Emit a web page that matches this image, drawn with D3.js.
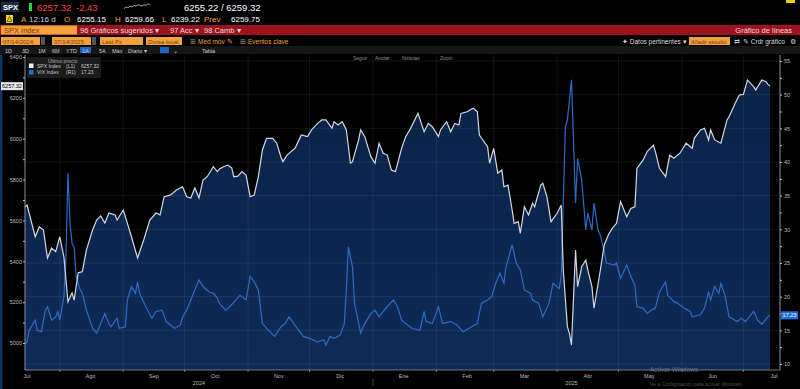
<!DOCTYPE html>
<html>
<head>
<meta charset="utf-8">
<script src="https://cdn.jsdelivr.net/npm/d3@7"></script>
<style>
body { margin: 0; background: #000; overflow: hidden; }
svg { display: block; font-family: "Liberation Sans", Arial, sans-serif; }
</style>
</head>
<body>
<svg id="chart" width="800" height="389"></svg>
<script>
// S&P 500 (SPX) last price
const spx = [
    ['2024-07-15', 5667], ['2024-07-16', 5675], ['2024-07-20', 5520], ['2024-07-22', 5569], ['2024-07-24', 5553],
    ['2024-07-26', 5416], ['2024-07-28', 5465], ['2024-07-30', 5447], ['2024-08-01', 5520], ['2024-08-03', 5422],
    ['2024-08-05', 5202], ['2024-08-07', 5245], ['2024-08-08', 5210], ['2024-08-10', 5344], ['2024-08-12', 5349],
    ['2024-08-14', 5455], ['2024-08-17', 5553], ['2024-08-19', 5602], ['2024-08-21', 5622], ['2024-08-23', 5587],
    ['2024-08-25', 5636], ['2024-08-28', 5627], ['2024-08-29', 5602], ['2024-09-01', 5651], ['2024-09-03', 5587],
    ['2024-09-05', 5520], ['2024-09-08', 5416], ['2024-09-11', 5504], ['2024-09-14', 5602], ['2024-09-17', 5636],
    ['2024-09-19', 5627], ['2024-09-21', 5716], ['2024-09-24', 5724], ['2024-09-27', 5749], ['2024-09-30', 5765],
    ['2024-10-02', 5716], ['2024-10-04', 5710], ['2024-10-06', 5759], ['2024-10-08', 5710], ['2024-10-10', 5798],
    ['2024-10-12', 5814], ['2024-10-15', 5863], ['2024-10-17', 5839], ['2024-10-18', 5852], ['2024-10-20', 5863],
    ['2024-10-22', 5871], ['2024-10-24', 5857], ['2024-10-25', 5814], ['2024-10-27', 5817], ['2024-10-29', 5839],
    ['2024-10-31', 5822], ['2024-11-02', 5716], ['2024-11-04', 5724], ['2024-11-06', 5814], ['2024-11-08', 5945],
    ['2024-11-10', 6002], ['2024-11-13', 6002], ['2024-11-15', 5978], ['2024-11-17', 5912], ['2024-11-18', 5888],
    ['2024-11-20', 5920], ['2024-11-24', 5954], ['2024-11-27', 6018], ['2024-11-30', 6010], ['2024-12-02', 6043],
    ['2024-12-05', 6075], ['2024-12-07', 6092], ['2024-12-09', 6092], ['2024-12-12', 6051], ['2024-12-13', 6083],
    ['2024-12-15', 6067], ['2024-12-17', 6083], ['2024-12-19', 6043], ['2024-12-21', 5880], ['2024-12-22', 5888],
    ['2024-12-25', 5994], ['2024-12-26', 6043], ['2024-12-28', 6010], ['2024-12-31', 5912], ['2025-01-02', 5880],
    ['2025-01-04', 5978], ['2025-01-06', 5929], ['2025-01-08', 5920], ['2025-01-10', 5847], ['2025-01-12', 5839],
    ['2025-01-15', 5953], ['2025-01-17', 6010], ['2025-01-19', 6043], ['2025-01-23', 6124], ['2025-01-26', 6034],
    ['2025-01-28', 6075], ['2025-01-30', 6059], ['2025-02-02', 6010], ['2025-02-03', 6043], ['2025-02-06', 6083],
    ['2025-02-08', 6034], ['2025-02-10', 6075], ['2025-02-12', 6067], ['2025-02-13', 6124], ['2025-02-16', 6132],
    ['2025-02-19', 6149], ['2025-02-21', 6132], ['2025-02-22', 6018], ['2025-02-26', 5961], ['2025-02-27', 5880],
    ['2025-03-01', 5953], ['2025-03-03', 5831], ['2025-03-05', 5847], ['2025-03-06', 5765], ['2025-03-08', 5773],
    ['2025-03-10', 5651], ['2025-03-11', 5586], ['2025-03-13', 5594], ['2025-03-14', 5537], ['2025-03-16', 5667],
    ['2025-03-18', 5627], ['2025-03-20', 5684], ['2025-03-21', 5667], ['2025-03-24', 5773], ['2025-03-25', 5782],
    ['2025-03-27', 5716], ['2025-03-29', 5594], ['2025-04-01', 5635], ['2025-04-03', 5676], ['2025-04-04', 5357],
    ['2025-04-06', 5080], ['2025-04-07', 5047], ['2025-04-08', 4990], ['2025-04-10', 5455], ['2025-04-11', 5276],
    ['2025-04-13', 5373], ['2025-04-15', 5406], ['2025-04-16', 5357], ['2025-04-18', 5276], ['2025-04-19', 5170],
    ['2025-04-22', 5350], ['2025-04-24', 5480], ['2025-04-26', 5529], ['2025-04-28', 5562], ['2025-04-30', 5586],
    ['2025-05-02', 5692], ['2025-05-05', 5618], ['2025-05-07', 5659], ['2025-05-09', 5667], ['2025-05-10', 5855],
    ['2025-05-13', 5896], ['2025-05-15', 5937], ['2025-05-18', 5969], ['2025-05-19', 5937], ['2025-05-21', 5855],
    ['2025-05-24', 5814], ['2025-05-26', 5920], ['2025-05-28', 5904], ['2025-05-31', 5929], ['2025-06-03', 5978],
    ['2025-06-06', 5953], ['2025-06-07', 6002], ['2025-06-10', 6043], ['2025-06-12', 6051], ['2025-06-14', 5994],
    ['2025-06-15', 6043], ['2025-06-17', 5994], ['2025-06-20', 5978], ['2025-06-23', 6092], ['2025-06-24', 6108],
    ['2025-06-27', 6173], ['2025-06-29', 6214], ['2025-07-01', 6217], ['2025-07-03', 6287], ['2025-07-06', 6255],
    ['2025-07-07', 6238], ['2025-07-10', 6287], ['2025-07-12', 6279], ['2025-07-13', 6266], ['2025-07-14', 6257.32]
]

// VIX, right axis
const vix = [
    ['2024-07-15', 13.0], ['2024-07-16', 13.3], ['2024-07-17', 15.0], ['2024-07-20', 16.5], ['2024-07-21', 15.0],
    ['2024-07-23', 14.8], ['2024-07-25', 18.0], ['2024-07-26', 18.5], ['2024-07-28', 16.5], ['2024-07-30', 17.0],
    ['2024-07-31', 17.8], ['2024-08-01', 16.5], ['2024-08-03', 20.0], ['2024-08-04', 25.9], ['2024-08-05', 38.3],
    ['2024-08-06', 30.9], ['2024-08-07', 27.9], ['2024-08-08', 27.4], ['2024-08-09', 23.0], ['2024-08-11', 21.0],
    ['2024-08-12', 20.5], ['2024-08-14', 18.0], ['2024-08-17', 15.3], ['2024-08-19', 14.6], ['2024-08-21', 16.0],
    ['2024-08-23', 17.5], ['2024-08-25', 16.0], ['2024-08-26', 15.5], ['2024-08-29', 16.8], ['2024-08-30', 15.3],
    ['2024-09-02', 15.5], ['2024-09-03', 19.5], ['2024-09-05', 21.5], ['2024-09-07', 20.5], ['2024-09-08', 22.2],
    ['2024-09-09', 20.5], ['2024-09-12', 18.5], ['2024-09-15', 16.8], ['2024-09-17', 17.8], ['2024-09-20', 18.0],
    ['2024-09-22', 16.3], ['2024-09-26', 15.3], ['2024-09-29', 15.8], ['2024-09-30', 17.0], ['2024-10-02', 18.0],
    ['2024-10-04', 19.5], ['2024-10-06', 21.0], ['2024-10-08', 22.5], ['2024-10-10', 21.5], ['2024-10-13', 20.7],
    ['2024-10-15', 20.5], ['2024-10-17', 19.8], ['2024-10-18', 19.0], ['2024-10-21', 18.0], ['2024-10-23', 18.5],
    ['2024-10-26', 19.5], ['2024-10-28', 20.2], ['2024-10-31', 19.5], ['2024-11-02', 23.0], ['2024-11-04', 22.2],
    ['2024-11-06', 21.0], ['2024-11-08', 16.0], ['2024-11-11', 15.0], ['2024-11-14', 14.1], ['2024-11-17', 15.5],
    ['2024-11-19', 16.0], ['2024-11-21', 17.0], ['2024-11-25', 15.3], ['2024-11-28', 14.1], ['2024-12-01', 13.8],
    ['2024-12-05', 13.3], ['2024-12-08', 13.6], ['2024-12-09', 12.8], ['2024-12-11', 14.1], ['2024-12-13', 13.8],
    ['2024-12-16', 14.3], ['2024-12-18', 16.0], ['2024-12-19', 21.0], ['2024-12-20', 27.4], ['2024-12-22', 24.4],
    ['2024-12-23', 19.0], ['2024-12-26', 14.6], ['2024-12-28', 16.0], ['2024-12-31', 17.5], ['2025-01-02', 18.0],
    ['2025-01-04', 17.0], ['2025-01-06', 17.8], ['2025-01-08', 18.5], ['2025-01-11', 19.5], ['2025-01-13', 18.5],
    ['2025-01-15', 16.5], ['2025-01-17', 16.0], ['2025-01-20', 15.3], ['2025-01-24', 15.0], ['2025-01-26', 17.8],
    ['2025-01-27', 16.3], ['2025-01-30', 16.0], ['2025-02-02', 18.5], ['2025-02-04', 16.0], ['2025-02-08', 16.3],
    ['2025-02-11', 15.8], ['2025-02-14', 14.8], ['2025-02-17', 15.3], ['2025-02-21', 16.0], ['2025-02-23', 19.0],
    ['2025-02-26', 19.5], ['2025-02-28', 20.0], ['2025-03-02', 22.0], ['2025-03-04', 23.5], ['2025-03-06', 22.0],
    ['2025-03-07', 24.4], ['2025-03-10', 27.7], ['2025-03-12', 25.0], ['2025-03-14', 24.0], ['2025-03-16', 21.0],
    ['2025-03-19', 20.5], ['2025-03-20', 19.5], ['2025-03-23', 19.0], ['2025-03-25', 17.0], ['2025-03-28', 19.0],
    ['2025-03-30', 22.0], ['2025-04-02', 21.2], ['2025-04-03', 23.0], ['2025-04-05', 45.2], ['2025-04-06', 46.2],
    ['2025-04-08', 52.2], ['2025-04-10', 33.9], ['2025-04-11', 40.5], ['2025-04-13', 37.3], ['2025-04-15', 29.9],
    ['2025-04-16', 32.4], ['2025-04-18', 29.9], ['2025-04-19', 33.9], ['2025-04-21', 29.9], ['2025-04-22', 29.2],
    ['2025-04-24', 26.7], ['2025-04-25', 25.0], ['2025-04-29', 24.7], ['2025-04-30', 25.0], ['2025-05-02', 22.7],
    ['2025-05-05', 24.7], ['2025-05-07', 23.0], ['2025-05-09', 21.7], ['2025-05-10', 18.5], ['2025-05-13', 18.3],
    ['2025-05-15', 17.5], ['2025-05-17', 18.0], ['2025-05-19', 18.3], ['2025-05-21', 20.7], ['2025-05-24', 22.2],
    ['2025-05-25', 20.2], ['2025-05-28', 19.3], ['2025-05-30', 19.0], ['2025-06-02', 18.3], ['2025-06-05', 17.8],
    ['2025-06-06', 17.0], ['2025-06-10', 17.3], ['2025-06-12', 18.3], ['2025-06-14', 20.7], ['2025-06-15', 19.5],
    ['2025-06-17', 21.5], ['2025-06-19', 20.5], ['2025-06-20', 22.0], ['2025-06-22', 20.2], ['2025-06-24', 17.0],
    ['2025-06-28', 16.3], ['2025-06-30', 16.8], ['2025-07-02', 16.3], ['2025-07-06', 17.8], ['2025-07-08', 16.5],
    ['2025-07-10', 15.9], ['2025-07-13', 17.0], ['2025-07-14', 17.23]
]

const leftTicks = [5000, 5200, 5400, 5600, 5800, 6000, 6200, 6400]
const rightTicks = [10, 15, 20, 25, 30, 35, 40, 45, 50, 55]
const monthNames = ['Ene', 'Feb', 'Mar', 'Abr', 'May', 'Jun', 'Jul', 'Ago', 'Sep', 'Oct', 'Nov', 'Dic']
const years = ['2024', '2025']
const sparkVals = [3, 5, 4, 6, 5, 7, 6, 8, 7, 6, 8, 7, 9, 8]

const lastSpx = 6257.32
const lastVix = 17.23

const ORANGE = '#f2a13c'
const RED_BAR = '#9c1320'
const W = 800
const H = 389
const plot = { left: 25, right: 770, axisRight: 780, top: 55, bottom: 370 }

const parse = d3.timeParse('%Y-%m-%d')
const spxData = spx.map(d => ({ date: parse(d[0]), v: d[1] }))
const vixData = vix.map(d => ({ date: parse(d[0]), v: d[1] }))

const x = d3.scaleTime()
    .domain([parse('2024-07-15'), parse('2025-07-14')])
    .range([plot.left, plot.right])
const yL = d3.scaleLinear().domain([5000, 6400]).range([343, 57])
const yR = d3.scaleLinear().domain([10, 55]).range([364, 61])

const svg = d3.select('#chart')
svg.append('rect').attr('width', W).attr('height', H).attr('fill', '#000')

// ---------- header rows ----------
function txt(g, xx, yy, s, fill, size, anchor) {
    return g.append('text')
        .attr('x', xx).attr('y', yy)
        .attr('fill', fill)
        .attr('font-size', size || 7)
        .attr('text-anchor', anchor || 'start')
        .text(s)
}
const hdr = svg.append('g')

// row 1
hdr.append('rect').attr('x', 1).attr('y', 2).attr('width', 18).attr('height', 10).attr('fill', '#1b2b44')
txt(hdr, 3, 10, 'SPX', '#fff', 7.5).attr('font-weight', 'bold')
hdr.append('rect').attr('x', 29).attr('y', 3).attr('width', 3).attr('height', 8).attr('fill', '#2fcf4a')
txt(hdr, 37, 11, '6257.32', '#ff3b3b', 9.5)
txt(hdr, 76, 11, '-2.43', '#ff3b3b', 9.5)
const sx = d3.scaleLinear().domain([0, sparkVals.length - 1]).range([124, 150])
const sy = d3.scaleLinear().domain([0, 10]).range([11, 3])
hdr.append('path')
    .attr('d', d3.line().x((d, i) => sx(i)).y(d => sy(d))(sparkVals))
    .attr('fill', 'none').attr('stroke', '#ddd').attr('stroke-width', 0.7)
txt(hdr, 184, 11, '6255.22 / 6259.32', '#fff', 9.5)
hdr.append('rect').attr('x', 786).attr('y', 0).attr('width', 9).attr('height', 3).attr('fill', '#e8d20a')

// row 2
hdr.append('rect').attr('x', 6).attr('y', 15).attr('width', 7).attr('height', 8).attr('fill', '#e8d20a')
hdr.append('path').attr('d', 'M9.5,16.5 L12,21.5 L7,21.5 Z').attr('fill', 'none').attr('stroke', '#222').attr('stroke-width', 0.6)
const row2 = [
    [21, 'A', ORANGE], [29, '12:16 d', '#ccc'], [64, 'O', ORANGE], [77, '6255.15', '#fff'],
    [115, 'H', ORANGE], [125, '6259.66', '#fff'], [162, 'L', ORANGE], [171, '6239.22', '#fff'],
    [204, 'Prev', ORANGE], [231, '6259.75', '#fff']
]
row2.forEach(d => txt(hdr, d[0], 22, d[1], d[2], 8))

// row 3
hdr.append('rect').attr('x', 0).attr('y', 25).attr('width', W).attr('height', 10).attr('fill', RED_BAR)
hdr.append('rect').attr('x', 1).attr('y', 25.5).attr('width', 76).attr('height', 9).attr('fill', ORANGE)
txt(hdr, 4, 33, 'SPX Index', '#7a3c00', 7.5)
txt(hdr, 80, 33, '96 Gráficos sugeridos ▾', '#f3dada', 7.5)
txt(hdr, 170, 33, '97 Acc ▾', '#f3dada', 7.5)
txt(hdr, 204, 33, '98 Camb ▾', '#f3dada', 7.5)
txt(hdr, 792, 33, 'Gráfico de líneas', '#f3dada', 7.5, 'end')

// row 4
const boxes = [[1, 39, '07/14/2024'], [52, 39, '07/14/2025'], [100, 43, 'Last Px'], [146, 36, 'Divisa local']]
boxes.forEach(b => {
    hdr.append('rect').attr('x', b[0]).attr('y', 37).attr('width', b[1]).attr('height', 8).attr('fill', ORANGE)
    txt(hdr, b[0] + 2, 43.5, b[2], '#7a3c00', 6)
})
hdr.append('rect').attr('x', 41).attr('y', 37).attr('width', 4).attr('height', 8).attr('fill', '#555')
hdr.append('rect').attr('x', 92).attr('y', 37).attr('width', 4).attr('height', 8).attr('fill', '#555')
txt(hdr, 190, 44, '⊞', '#999', 6.5)
txt(hdr, 198, 44, 'Med móv ✎', ORANGE, 6.5)
txt(hdr, 240, 44, '⊞', '#999', 6.5)
txt(hdr, 248, 44, 'Eventos clave', ORANGE, 6.5)
txt(hdr, 622, 44, '✦ Datos pertinentes ▾', '#ddd', 6.5)
hdr.append('rect').attr('x', 689).attr('y', 37).attr('width', 41).attr('height', 8).attr('fill', ORANGE)
txt(hdr, 691, 43.5, 'Añadir estudio', '#7a3c00', 5.5)
txt(hdr, 734, 44, '⇄', '#ccc', 6.5)
txt(hdr, 743, 44, '✎ Crdr gráfico', '#ddd', 6.5)
txt(hdr, 790, 44, '⚙', '#ccc', 6.5)

// row 5
hdr.append('rect').attr('x', 0).attr('y', 46).attr('width', W).attr('height', 8).attr('fill', '#161616')
hdr.append('rect').attr('x', 80).attr('y', 47).attr('width', 11).attr('height', 6).attr('fill', '#1f63c8')
const row5 = [[5, '1D'], [22, '3D'], [38, '1M'], [52, '6M'], [66, 'YTD'], [82, '1A'], [99, '5A'],
    [112, 'Máx'], [128, 'Diario ▾'], [173, '⌄'], [202, 'Tabla']]
row5.forEach(d => txt(hdr, d[0], 52.5, d[1], '#ccc', 5.5))
hdr.append('rect').attr('x', 160).attr('y', 47).attr('width', 9).attr('height', 6).attr('fill', '#1f63c8')

// ---------- plot ----------
const g = svg.append('g')

g.append('rect').attr('x', 0).attr('y', plot.top).attr('width', 2.5).attr('height', H - plot.top).attr('fill', '#0e3566')

const grad = svg.append('defs').append('linearGradient')
    .attr('id', 'fillGrad').attr('x1', 0).attr('y1', 0).attr('x2', 0).attr('y2', 1)
grad.append('stop').attr('offset', '0%').attr('stop-color', '#0a2247')
grad.append('stop').attr('offset', '100%').attr('stop-color', '#0d2b57')

g.append('path')
    .datum(spxData)
    .attr('d', d3.area().x(d => x(d.date)).y0(plot.bottom).y1(d => yL(d.v)))
    .attr('fill', 'url(#fillGrad)')

// gridlines
g.selectAll('.hgrid')
    .data(rightTicks)
    .enter()
    .append('line')
    .attr('x1', plot.left).attr('x2', plot.axisRight)
    .attr('y1', d => yR(d)).attr('y2', d => yR(d))
    .attr('stroke', 'rgba(255,255,255,0.09)').attr('stroke-width', 0.8)

const monthStarts = d3.timeMonth.range(parse('2024-08-01'), parse('2025-07-02'))
g.selectAll('.vgrid')
    .data(monthStarts)
    .enter()
    .append('line')
    .attr('x1', d => x(d)).attr('x2', d => x(d))
    .attr('y1', plot.top).attr('y2', plot.bottom)
    .attr('stroke', 'rgba(255,255,255,0.09)').attr('stroke-width', 0.8)

// series lines
g.append('path')
    .datum(vixData)
    .attr('d', d3.line().x(d => x(d.date)).y(d => yR(d.v)))
    .attr('fill', 'none').attr('stroke', '#2d6bc8').attr('stroke-width', 1.2)

g.append('path')
    .datum(spxData)
    .attr('d', d3.line().x(d => x(d.date)).y(d => yL(d.v)))
    .attr('fill', 'none').attr('stroke', '#d4d8e0').attr('stroke-width', 1.2)

// left axis
const axL = g.append('g')
    .attr('transform', `translate(${plot.left},0)`)
    .call(d3.axisLeft(yL).tickValues(d3.range(5000, 6401, 100)).tickSize(2).tickFormat(d => leftTicks.includes(d) ? d : ''))
axL.select('.domain').attr('stroke', '#8a8f98').attr('d', `M0,${plot.top}V${plot.bottom}`)
axL.selectAll('.tick line').attr('stroke', '#bbb')
axL.selectAll('.tick text').attr('fill', '#bbb').attr('font-size', 5.5).attr('x', -3)

// right axis
const axR = g.append('g')
    .attr('transform', `translate(${plot.axisRight},0)`)
    .call(d3.axisRight(yR).tickValues(d3.range(10, 56, 2.5)).tickSize(2).tickFormat(d => rightTicks.includes(d) ? d : ''))
axR.select('.domain').attr('stroke', '#8a8f98').attr('d', `M0,${plot.top}V${plot.bottom}`)
axR.selectAll('.tick line').attr('stroke', '#bbb')
axR.selectAll('.tick text').attr('fill', '#bbb').attr('font-size', 5.5).attr('x', 4)

// bottom axis
g.append('line')
    .attr('x1', plot.left).attr('x2', plot.axisRight)
    .attr('y1', plot.bottom).attr('y2', plot.bottom)
    .attr('stroke', '#8a8f98').attr('stroke-width', 0.8)
g.selectAll('.mtick')
    .data(monthStarts)
    .enter()
    .append('line')
    .attr('x1', d => x(d)).attr('x2', d => x(d))
    .attr('y1', plot.bottom).attr('y2', plot.bottom + 2)
    .attr('stroke', '#bbb').attr('stroke-width', 0.6)

const monthMids = d3.timeMonth.range(parse('2024-07-01'), parse('2025-07-02')).map(d => d3.timeDay.offset(d, 15))
g.selectAll('.mlabel')
    .data(monthMids)
    .enter()
    .append('text')
    .attr('x', d => x(d)).attr('y', plot.bottom + 7.5)
    .attr('text-anchor', 'middle').attr('fill', '#bbb').attr('font-size', 5.5)
    .text(d => monthNames[d.getMonth()])

const yearStart = parse('2025-01-01')
g.append('line')
    .attr('x1', x(yearStart)).attr('x2', x(yearStart))
    .attr('y1', plot.bottom + 9).attr('y2', plot.bottom + 16)
    .attr('stroke', '#777').attr('stroke-width', 0.6)
g.selectAll('.ylabel')
    .data(years)
    .enter()
    .append('text')
    .attr('x', (d, i) => i === 0 ? (x.range()[0] + x(yearStart)) / 2 : (x(yearStart) + x.range()[1]) / 2)
    .attr('y', plot.bottom + 14.5)
    .attr('text-anchor', 'middle').attr('fill', '#bbb').attr('font-size', 5.5)
    .text(d => d)

// last value tags
g.append('rect').attr('x', 1).attr('y', yL(lastSpx) - 4).attr('width', 22).attr('height', 8).attr('fill', '#e8e8e8')
g.append('text').attr('x', 12).attr('y', yL(lastSpx) + 2).attr('text-anchor', 'middle')
    .attr('fill', '#000').attr('font-size', 5.5).text(lastSpx.toFixed(2))
g.append('rect').attr('x', 781).attr('y', yR(lastVix) - 4).attr('width', 17).attr('height', 8).attr('fill', '#1f6fe0')
g.append('text').attr('x', 789.5).attr('y', yR(lastVix) + 2).attr('text-anchor', 'middle')
    .attr('fill', '#fff').attr('font-size', 5.5).text(lastVix.toFixed(2))

// chart toolbar
const tools = [[353, 'Seguir'], [375, 'Anotar'], [402, 'Noticias'], [440, 'Zoom']]
tools.forEach(d => txt(g, d[0], 60, d[1], '#8d8d8d', 5))

// legend
const lg = g.append('g')
lg.append('rect').attr('x', 27).attr('y', 57).attr('width', 74).attr('height', 21).attr('fill', 'rgba(30,30,30,0.9)')
txt(lg, 48, 62.5, 'Último precio', '#aaa', 5)
const legendRows = [
    ['#f0f0f0', 'SPX Index', '(L1)', lastSpx.toFixed(2)],
    ['#1f6fe0', 'VIX Index', '(R1)', lastVix.toFixed(2)]
]
legendRows.forEach((r, i) => {
    const yy = 66 + i * 6.5
    lg.append('rect').attr('x', 29).attr('y', yy - 2.5).attr('width', 4.5).attr('height', 4.5).attr('fill', r[0])
    txt(lg, 37, yy + 1.8, r[1], '#ccc', 5)
    txt(lg, 66, yy + 1.8, r[2], '#ccc', 5)
    txt(lg, 81, yy + 1.8, r[3], '#ccc', 5)
})

// watermark
txt(svg, 650, 371.5, 'Activar Windows', 'rgba(200,200,200,0.45)', 6.5)
txt(svg, 650, 385.5, 'Ve a Configuración para activar Windows.', 'rgba(200,200,200,0.4)', 5)
</script>
</body>
</html>
